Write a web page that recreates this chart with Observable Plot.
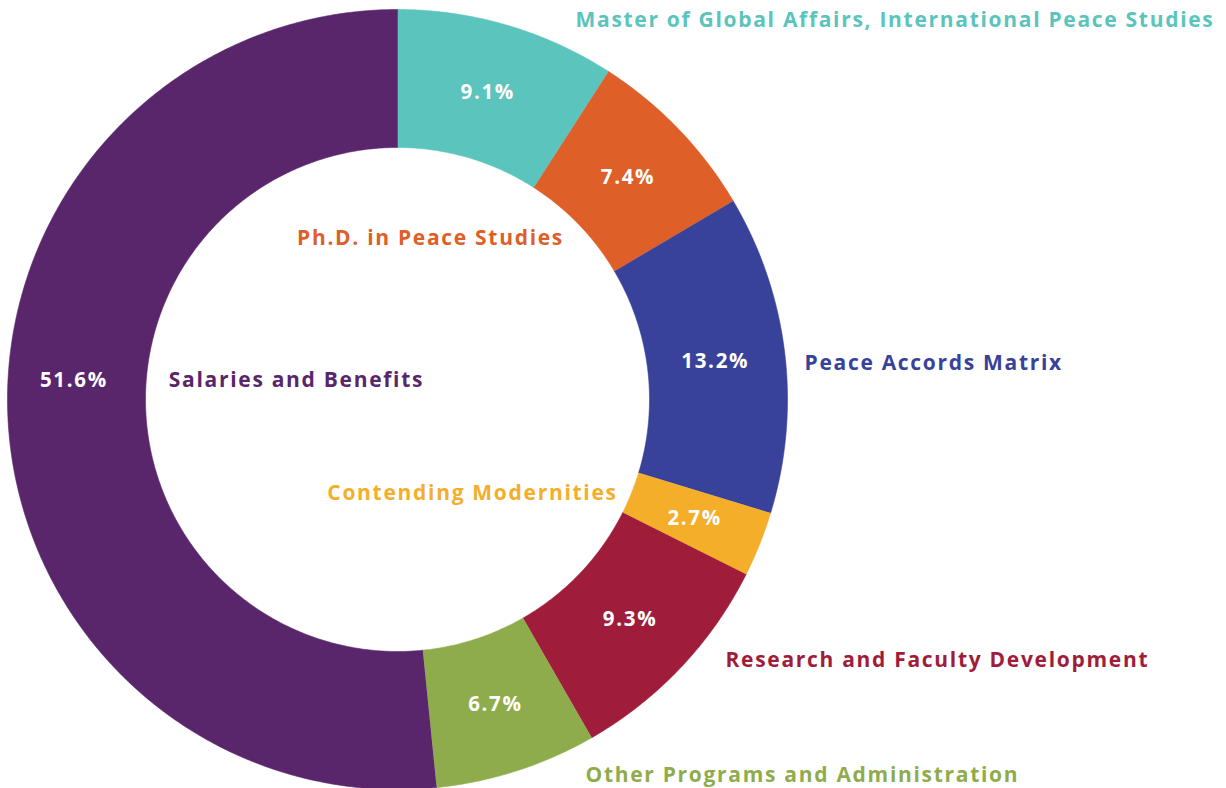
<!DOCTYPE html>
<html>
<head>
<meta charset="utf-8">
<script src="https://cdn.jsdelivr.net/npm/d3@7"></script>
<script src="https://cdn.jsdelivr.net/npm/@observablehq/plot@0.6"></script>
<style>
  html, body { margin: 0; padding: 0; background: #ffffff; }
  #chart svg { display: block; }
</style>
</head>
<body>
<div id="chart"></div>
<script>
// ---- data ----
const categories = [
  "Master of Global Affairs, International Peace Studies",
  "Ph.D. in Peace Studies",
  "Peace Accords Matrix",
  "Contending Modernities",
  "Research and Faculty Development",
  "Other Programs and Administration",
  "Salaries and Benefits"
];
const shares = [9.1, 7.4, 13.2, 2.7, 9.3, 6.7, 51.6];
const colors = ["#5BC4BC", "#DE5F28", "#38429A", "#F4AE2A", "#A01C3B", "#8FAC4C", "#59266B"];

// ---- layout ----
const W = 1226, H = 788;
const cx = 397, cy = 399;         // pixel centre of the ring
const R_OUT = 390, R_IN = 252, R_LBL = 320;
const FONT = "'Open Sans', Lato, sans-serif";

// category label anchors (relative to centre, y up) and anchor side
const catLayout = [
  {x: 178, y: 379, anchor: "start"},
  {x: 33,  y: 161, anchor: "middle"},
  {x: 407, y: 36,  anchor: "start"},
  {x: 75,  y: -94, anchor: "middle"},
  {x: 328, y: -261, anchor: "start"},
  {x: 188, y: -376, anchor: "start"},
  {x: -101, y: 19, anchor: "middle"}
];

// ---- build slices ----
const total = d3.sum(shares);
const slices = [];
let acc = 0;
categories.forEach((c, i) => {
  const a0 = acc / total * 2 * Math.PI;
  acc += shares[i];
  const a1 = acc / total * 2 * Math.PI;
  slices.push({category: c, share: shares[i], a0, a1, mid: (a0 + a1) / 2});
});

const polyPts = [];
for (const s of slices) {
  const n = Math.max(4, Math.ceil((s.a1 - s.a0) / (Math.PI / 360)));
  for (let k = 0; k <= n; k++) {
    const a = s.a0 + (s.a1 - s.a0) * k / n;
    polyPts.push({category: s.category, x: R_OUT * Math.sin(a), y: R_OUT * Math.cos(a)});
  }
  for (let k = n; k >= 0; k--) {
    const a = s.a0 + (s.a1 - s.a0) * k / n;
    polyPts.push({category: s.category, x: R_IN * Math.sin(a), y: R_IN * Math.cos(a)});
  }
}

const pctLabels = slices.map((s, i) => {
  const big = s.share > 50;
  return {
    text: s.share.toFixed(1) + "%",
    x: R_LBL * Math.sin(s.mid) + (big ? -4 : 0),
    y: big ? catLayout[i].y : R_LBL * Math.cos(s.mid)
  };
});

const catLabels = slices.map((s, i) => ({category: s.category, ...catLayout[i]}));

const chart = Plot.plot({
  width: W,
  height: H,
  margin: 0,
  x: {domain: [-cx, W - cx], axis: null},
  y: {domain: [-(H - cy), cy], axis: null},
  color: {domain: categories, range: colors},
  style: {fontFamily: FONT, background: "#ffffff"},
  marks: [
    Plot.line(polyPts, {x: "x", y: "y", z: "category", fill: "category", stroke: "category", strokeWidth: 0.6, curve: "linear"}),
    Plot.text(pctLabels, {x: "x", y: "y", text: "text", fill: "white", fontSize: 20.5, fontWeight: 700, fontFamily: FONT}),
    Plot.text(catLabels.filter(d => d.anchor === "start"), {x: "x", y: "y", text: "category", fill: "category", textAnchor: "start", fontSize: 21, fontWeight: 700, fontFamily: FONT}),
    Plot.text(catLabels.filter(d => d.anchor === "middle"), {x: "x", y: "y", text: "category", fill: "category", textAnchor: "middle", fontSize: 21, fontWeight: 700, fontFamily: FONT})
  ]
});
d3.select(chart).selectAll("text").style("letter-spacing", "1.7px");
document.getElementById("chart").appendChild(chart);
</script>
</body>
</html>
